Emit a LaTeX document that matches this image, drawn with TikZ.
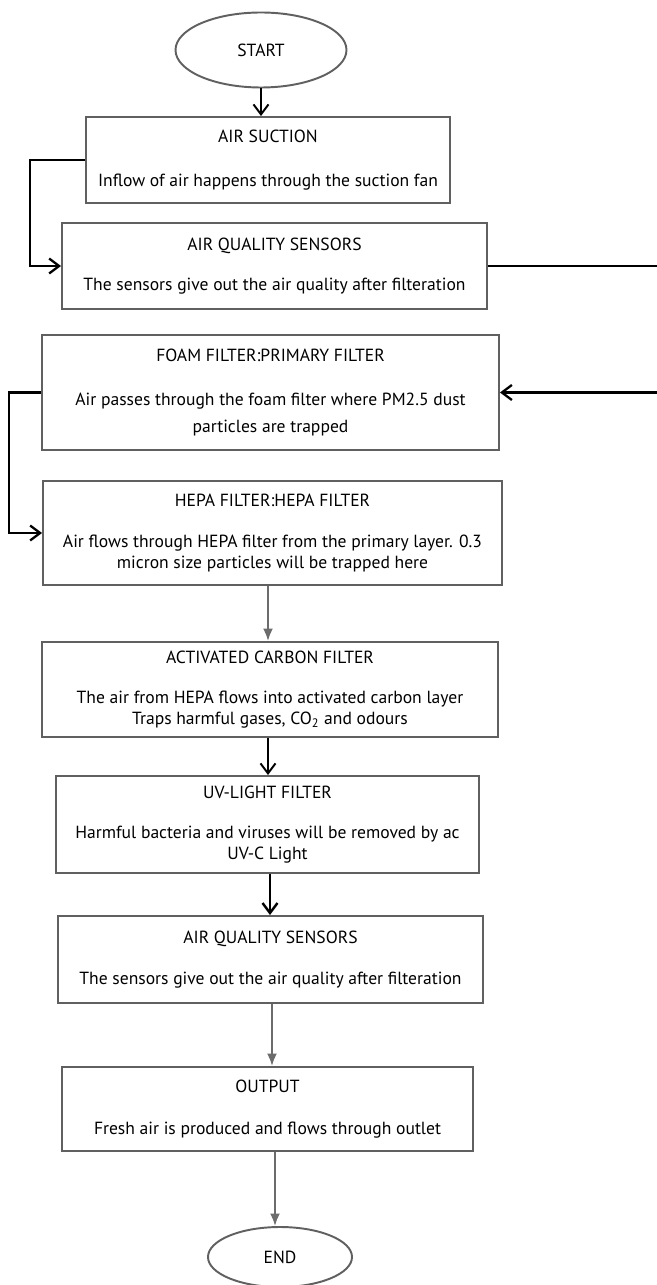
\documentclass[tikz,border=0pt]{standalone}
\usepackage{fontspec}
\setmainfont{PT Sans}
\usetikzlibrary{arrows.meta,shapes.geometric}

\begin{document}
\begin{tikzpicture}[
  font=\fontsize{10}{12}\selectfont,
  box/.style={draw=gray!75!black, line width=1.1pt, align=center, inner sep=0pt},
  oval/.style={ellipse, draw=gray!75!black, line width=1.1pt, inner sep=0pt},
  blk/.style={draw=black, line width=1.1pt, -{Straight Barb[length=2mm,width=3mm]}},
  gry/.style={draw=gray!85!black, line width=1.2pt, -{Latex[length=2.5mm,width=2mm]}},
]
  \path[use as bounding box, clip] (0,0) rectangle (13.14,-25.7);
  \node[oval, minimum width=3.42cm, minimum height=1.5cm] at (5.22,-1.0) (start) {START};
  \node[box, minimum width=7.28cm, minimum height=1.72cm] at (5.36,-3.2) (suck)
    {AIR SUCTION\\[13pt]Inflow of air happens through the suction fan};
  \node[box, minimum width=8.5cm, minimum height=1.72cm] at (5.49,-5.32) (aqs1)
    {AIR QUALITY SENSORS\\[11pt]The sensors give out the air quality after filteration};
  \node[box, minimum width=9.14cm, minimum height=2.3cm] at (5.41,-7.85) (foam)
    {FOAM FILTER:PRIMARY FILTER\\[13pt]Air passes through the foam filter where PM2.5 dust\\[3pt]particles are trapped};
  \node[box, minimum width=9.18cm, minimum height=2.08cm] at (5.45,-10.66) (hepa)
    {HEPA FILTER:HEPA FILTER\\[11pt]Air flows through HEPA filter from the primary layer. 0.3\\micron size particles will be trapped here};
  \node[box, minimum width=9.12cm, minimum height=1.9cm] at (5.40,-13.79) (carb)
    {ACTIVATED CARBON FILTER\\[11pt]The air from HEPA flows into activated carbon layer\\Traps harmful gases, CO\textsubscript{2} and odours};
  \node[box, minimum width=8.46cm, minimum height=1.94cm] at (5.35,-16.49) (uv)
    {UV-LIGHT FILTER\\[11pt]Harmful bacteria and viruses will be removed by ac\\UV-C Light};
  \node[box, minimum width=8.5cm, minimum height=1.74cm] at (5.41,-19.19) (aqs2)
    {AIR QUALITY SENSORS\\[11pt]The sensors give out the air quality after filteration};
  \node[box, minimum width=8.22cm, minimum height=1.68cm] at (5.35,-22.18) (out)
    {OUTPUT\\[12pt]Fresh air is produced and flows through outlet};
  \node[oval, minimum width=2.88cm, minimum height=1.2cm] at (5.6,-25.14) (end) {END};

  \draw[blk] (start.south) -- (start.south |- suck.north);
  \draw[blk, line width=1.3pt] (suck.west) -- ++(-1.1,0) |- (aqs1.west);
  \draw[blk, line width=1.3pt] (aqs1.east) -- ++(3.6,0) |- (foam.east);
  \draw[blk, line width=1.3pt] (foam.west) -- ++(-0.64,0) |- (hepa.west);
  \draw[gry] ([xshift=-0.09cm]hepa.south) -- ([xshift=-0.09cm]hepa.south |- carb.north);
  \draw[blk] ([xshift=-0.04cm]carb.south) -- ([xshift=-0.04cm]carb.south |- uv.north);
  \draw[blk, line width=1.4pt] ([xshift=0.05cm]uv.south) -- ([xshift=0.05cm]uv.south |- aqs2.north);
  \draw[gry] ([xshift=0.03cm]aqs2.south) -- ([xshift=0.03cm]aqs2.south |- out.north);
  \draw[gry] ([xshift=0.15cm]out.south) -- ([xshift=0.15cm]out.south |- end.north);
\end{tikzpicture}
\end{document}
